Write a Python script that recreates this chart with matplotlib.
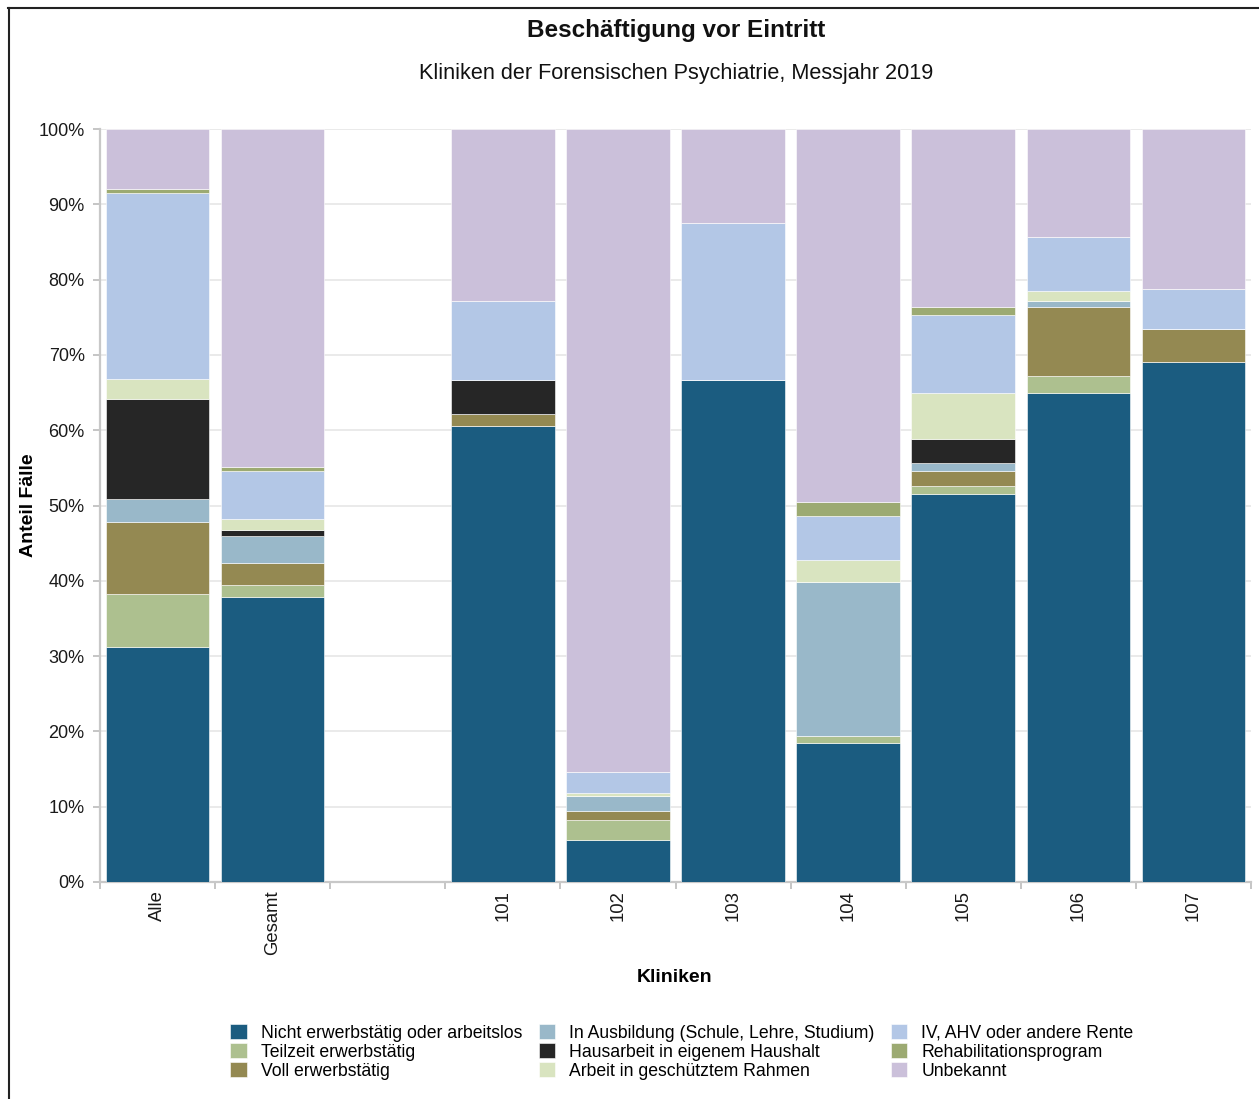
import matplotlib
matplotlib.use("Agg")
import matplotlib.pyplot as plt
from matplotlib.lines import Line2D
import numpy as np

plt.rcParams['font.family'] = ['Liberation Sans', 'DejaVu Sans']

categories = ["Alle", "Gesamt", "", "101", "102", "103", "104", "105", "106", "107"]
series_names = [
    "Nicht erwerbstätig oder arbeitslos",
    "Teilzeit erwerbstätig",
    "Voll erwerbstätig",
    "In Ausbildung (Schule, Lehre, Studium)",
    "Hausarbeit in eigenem Haushalt",
    "Arbeit in geschütztem Rahmen",
    "IV, AHV oder andere Rente",
    "Rehabilitationsprogram",
    "Unbekannt",
]
colors = ["#1b5c80", "#adc08f", "#948952", "#99b8c9", "#262626",
          "#d9e4c0", "#b3c7e6", "#9caa72", "#cbc0da"]

# values in percent, per category (empty slot = 0)
nicht_erwerbstaetig = [31.2, 37.9, 0, 60.6, 5.6, 66.7, 18.5, 51.5, 65.0, 69.1]
teilzeit            = [7.1, 1.5, 0, 0.0, 2.7, 0.0, 0.9, 1.1, 2.2, 0.0]
voll                = [9.5, 2.9, 0, 1.6, 1.1, 0.0, 0.0, 2.0, 9.2, 4.3]
ausbildung          = [3.1, 3.6, 0, 0.0, 2.0, 0.0, 20.4, 1.1, 0.7, 0.0]
hausarbeit          = [13.3, 0.8, 0, 4.5, 0.0, 0.0, 0.0, 3.1, 0.0, 0.0]
geschuetzt          = [2.6, 1.5, 0, 0.0, 0.4, 0.0, 2.9, 6.2, 1.4, 0.0]
iv_ahv              = [24.7, 6.4, 0, 10.5, 2.8, 20.8, 5.9, 10.3, 7.2, 5.3]
reha                = [0.5, 0.5, 0, 0.0, 0.0, 0.0, 1.9, 1.0, 0.0, 0.0]
unbekannt           = [8.0, 44.9, 0, 22.8, 85.4, 12.5, 49.5, 23.7, 14.3, 21.3]

series = [nicht_erwerbstaetig, teilzeit, voll, ausbildung, hausarbeit,
          geschuetzt, iv_ahv, reha, unbekannt]

fig = plt.figure(figsize=(12.59, 10.99), dpi=100)
ax = fig.add_axes([100/1259, 1-882/1099, 1151/1259, 753/1099])

x = np.arange(len(categories))
bottom = np.zeros(len(categories))
for name, vals, c in zip(series_names, series, colors):
    v = np.array(vals, dtype=float)
    ax.bar(x, v, bottom=bottom, width=0.9, color=c, edgecolor="white",
           linewidth=0.4, label=name, zorder=3)
    bottom += v

ax.set_xlim(-0.5, len(categories) - 0.5)
ax.set_ylim(0, 100)
ax.set_yticks(np.arange(0, 101, 10))
ax.set_yticklabels([f"{t}%" for t in range(0, 101, 10)], fontsize=13, color="#1a1a1a")
ax.yaxis.grid(True, color="#e6e6e6", linewidth=1.2, zorder=0)
ax.set_axisbelow(True)

# category labels at centres, tick marks at boundaries
ax.set_xticks(np.arange(-0.5, len(categories), 1.0))
ax.set_xticklabels([])
ax.set_xticks(x, minor=True)
ax.set_xticklabels(categories, minor=True, rotation=90, fontsize=13.3, color="#1a1a1a")
ax.tick_params(axis="x", which="minor", length=0, pad=6)
ax.tick_params(axis="x", which="major", length=5, color="#bbbbbb", width=1.2)
ax.tick_params(axis="y", length=5, color="#bbbbbb", width=1.2, pad=6)

for s in ["top", "right"]:
    ax.spines[s].set_visible(False)
for s in ["left", "bottom"]:
    ax.spines[s].set_color("#c8c8c8")
    ax.spines[s].set_linewidth(1.6)

ax.set_xlabel("Kliniken", fontsize=14, fontweight="bold")
ax.xaxis.set_label_coords((675 - 100) / 1151, -(969 - 882) / 753)
ax.set_ylabel("Anteil Fälle", fontsize=14, fontweight="bold")
ax.yaxis.set_label_coords(-(100 - 37) / 1151, (882 - 505) / 753)

fig.text(676/1259, 1-30/1099, "Beschäftigung vor Eintritt", ha="center", va="center",
         fontsize=17.5, fontweight="bold", color="#111111")
fig.text(676/1259, 1-74/1099, "Kliniken der Forensischen Psychiatrie, Messjahr 2019",
         ha="center", va="center", fontsize=15.6, color="#111111")

h, l = ax.get_legend_handles_labels()
leg = fig.legend(h, l, ncol=3, loc="center", bbox_to_anchor=(682/1259, 1-1052/1099),
                 frameon=False, fontsize=12.7, handlelength=0.95, handleheight=0.95,
                 handletextpad=0.8, columnspacing=0.9, labelspacing=0.08,
                 borderaxespad=0)

# figure frame lines (top and left)
fig.add_artist(Line2D([8/1259, 1.0], [1-8/1099, 1-8/1099], color="#222222", linewidth=1.5,
                      transform=fig.transFigure))
fig.add_artist(Line2D([9/1259, 9/1259], [0, 1-8/1099], color="#222222", linewidth=1.5,
                      transform=fig.transFigure))

fig.savefig("out.png", dpi=100)
